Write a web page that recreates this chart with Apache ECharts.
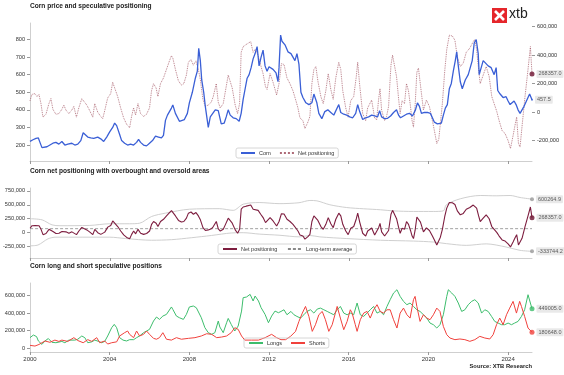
<!DOCTYPE html>
<html><head><meta charset="utf-8">
<script src="https://cdn.jsdelivr.net/npm/echarts@6/dist/echarts.min.js"></script>
<style>html,body{margin:0;padding:0;background:#fff}#c{width:564px;height:375px}</style>
</head><body><div id="c"></div>
<script>
// ---------- tick labels ----------
const yearTicks = [2000, 2004, 2008, 2012, 2016, 2020, 2024];
const priceTicks = [200, 300, 400, 500, 600, 700, 800];
const netTicksTop = [-200000, 0, 200000, 400000, 600000];
const netTicksMid = [-250000, 0, 250000, 500000, 750000];
const posTicks = [0, 200000, 400000, 600000];

// ---------- corn price ----------
const priceYears = [2000.0,2000.15,2000.3,2000.42,2000.5,2000.6,2000.7,2000.85,2001.0,2001.15,2001.3,2001.45,2001.6,2001.75,2001.9,2002.1,2002.25,2002.4,2002.55,2002.67,2002.75,2002.9,2003.05,2003.2,2003.4,2003.55,2003.7,2003.85,2004.0,2004.15,2004.25,2004.35,2004.5,2004.6,2004.75,2004.9,2005.05,2005.2,2005.35,2005.45,2005.55,2005.7,2005.85,2006.0,2006.15,2006.3,2006.45,2006.6,2006.7,2006.8,2006.9,2007.0,2007.1,2007.17,2007.3,2007.4,2007.5,2007.6,2007.75,2007.9,2008.0,2008.15,2008.3,2008.4,2008.47,2008.55,2008.62,2008.72,2008.8,2008.9,2008.95,2009.05,2009.15,2009.3,2009.45,2009.6,2009.75,2009.85,2009.95,2010.05,2010.2,2010.35,2010.5,2010.6,2010.7,2010.8,2010.9,2011.0,2011.1,2011.2,2011.3,2011.4,2011.5,2011.6,2011.7,2011.8,2011.9,2012.0,2012.1,2012.2,2012.35,2012.45,2012.5,2012.58,2012.65,2012.8,2012.95,2013.1,2013.2,2013.3,2013.4,2013.5,2013.6,2013.7,2013.85,2014.0,2014.15,2014.25,2014.4,2014.5,2014.65,2014.8,2014.95,2015.1,2015.25,2015.35,2015.5,2015.6,2015.75,2015.9,2016.05,2016.2,2016.35,2016.45,2016.55,2016.7,2016.85,2017.0,2017.15,2017.3,2017.45,2017.55,2017.65,2017.8,2017.95,2018.1,2018.25,2018.4,2018.5,2018.6,2018.75,2018.9,2019.05,2019.2,2019.35,2019.45,2019.55,2019.65,2019.8,2019.95,2020.1,2020.2,2020.3,2020.45,2020.55,2020.65,2020.75,2020.85,2020.95,2021.05,2021.15,2021.25,2021.35,2021.42,2021.5,2021.6,2021.7,2021.85,2022.0,2022.1,2022.2,2022.3,2022.4,2022.5,2022.55,2022.65,2022.75,2022.85,2023.0,2023.15,2023.3,2023.4,2023.48,2023.6,2023.75,2023.9,2024.0,2024.1,2024.2,2024.3,2024.4,2024.5,2024.6,2024.7,2024.8,2024.9,2025.0,2025.08,2025.2];
const priceValues = [221,230,238,240,215,185,178,190,200,210,215,205,220,200,205,210,200,205,225,270,260,245,240,238,245,235,220,245,275,300,325,310,260,225,210,200,205,200,215,232,215,200,195,210,225,250,245,240,255,340,370,390,410,428,380,370,335,325,345,380,440,500,580,620,750,680,570,500,420,340,300,360,370,400,395,320,325,360,400,370,355,350,335,380,460,520,580,600,640,690,720,760,650,700,740,650,620,645,640,630,610,560,640,825,790,770,730,720,700,680,720,660,500,470,440,430,440,490,440,380,350,390,400,385,370,380,430,385,375,370,360,355,380,430,390,345,355,360,370,365,360,395,360,350,352,365,385,400,370,355,365,375,380,365,400,440,420,380,385,385,380,370,330,320,330,325,370,410,430,520,550,620,680,730,650,560,520,570,600,640,680,780,800,720,600,600,680,670,650,640,600,640,510,490,470,475,450,430,440,450,430,400,380,400,420,430,470,490,457.5];

// ---------- net speculative positioning ----------
const netYears = [2000.0,2000.1,2000.25,2000.35,2000.45,2000.55,2000.65,2000.8,2000.95,2001.05,2001.15,2001.3,2001.45,2001.6,2001.7,2001.8,2001.95,2002.1,2002.2,2002.33,2002.45,2002.6,2002.7,2002.85,2003.0,2003.15,2003.25,2003.4,2003.55,2003.65,2003.75,2003.9,2004.05,2004.15,2004.25,2004.4,2004.55,2004.7,2004.85,2005.0,2005.1,2005.2,2005.3,2005.42,2005.55,2005.7,2005.85,2006.0,2006.1,2006.2,2006.33,2006.42,2006.55,2006.7,2006.85,2007.0,2007.1,2007.17,2007.3,2007.45,2007.6,2007.72,2007.85,2007.95,2008.08,2008.2,2008.33,2008.45,2008.55,2008.68,2008.8,2008.95,2009.1,2009.2,2009.35,2009.45,2009.55,2009.7,2009.8,2009.95,2010.05,2010.15,2010.3,2010.42,2010.52,2010.6,2010.7,2010.85,2010.95,2011.08,2011.2,2011.3,2011.45,2011.58,2011.7,2011.82,2011.9,2012.05,2012.2,2012.38,2012.5,2012.62,2012.75,2012.9,2013.05,2013.2,2013.35,2013.45,2013.55,2013.7,2013.8,2013.95,2014.05,2014.15,2014.25,2014.35,2014.45,2014.6,2014.72,2014.85,2014.97,2015.1,2015.22,2015.35,2015.5,2015.6,2015.7,2015.85,2015.97,2016.1,2016.25,2016.38,2016.45,2016.55,2016.7,2016.85,2016.95,2017.05,2017.15,2017.3,2017.4,2017.5,2017.57,2017.65,2017.8,2017.9,2018.0,2018.12,2018.2,2018.3,2018.4,2018.5,2018.58,2018.68,2018.8,2018.9,2019.0,2019.1,2019.18,2019.25,2019.33,2019.42,2019.5,2019.6,2019.75,2019.9,2020.05,2020.2,2020.3,2020.42,2020.52,2020.6,2020.7,2020.82,2020.92,2021.05,2021.2,2021.33,2021.45,2021.6,2021.75,2021.9,2022.08,2022.25,2022.33,2022.42,2022.52,2022.6,2022.75,2022.9,2023.05,2023.18,2023.3,2023.43,2023.55,2023.7,2023.85,2024.0,2024.12,2024.25,2024.35,2024.43,2024.52,2024.6,2024.7,2024.85,2025.0,2025.12,2025.2];
const netValues = [80000,125000,130000,110000,125000,60000,-35000,-15000,60000,95000,20000,-15000,-10000,20000,50000,15000,-10000,15000,40000,-35000,30000,95000,95000,50000,10000,-35000,60000,0,-30000,-45000,10000,100000,130000,210000,200000,110000,30000,-40000,-85000,-110000,-30000,30000,-20000,60000,-10000,-30000,-15000,30000,150000,200000,170000,110000,200000,240000,300000,360000,396000,380000,300000,220000,190000,200000,260000,350000,370000,330000,360000,300000,230000,90000,40000,50000,70000,110000,200000,70000,30000,60000,140000,260000,265000,170000,50000,-10000,60000,420000,460000,475000,470000,495000,420000,440000,400000,330000,270000,180000,160000,270000,210000,120000,200000,340000,335000,240000,200000,150000,80000,30000,-40000,-60000,-115000,-70000,-30000,200000,300000,320000,220000,110000,60000,150000,270000,160000,90000,240000,350000,300000,150000,30000,-35000,80000,110000,250000,350000,190000,-10000,-60000,30000,30000,85000,-40000,-55000,90000,165000,15000,-60000,-30000,40000,330000,400000,390000,250000,100000,-10000,80000,60000,200000,150000,40000,-60000,-105000,40000,280000,310000,190000,15000,85000,40000,-60000,-130000,-220000,-190000,-80000,60000,290000,440000,540000,535000,505000,390000,320000,345000,420000,450000,495000,510000,440000,300000,200000,260000,320000,250000,110000,60000,5000,-60000,-130000,-150000,-200000,-255000,-165000,-90000,-35000,-220000,-245000,-100000,110000,300000,460000,268357.0];

// ---------- overbought / oversold bands ----------
const upperYears = [2000.0,2000.6,2001.1,2001.5,2003.0,2004.0,2005.0,2005.5,2006.1,2006.8,2008.0,2009.5,2010.2,2010.7,2011.5,2012.5,2013.5,2014.05,2014.4,2015.05,2015.9,2016.75,2017.6,2018.25,2019.25,2020.25,2020.75,2020.9,2021.6,2022.6,2023.4,2024.1,2024.6,2025.2];
const upperValues = [250000,230000,140000,125000,130000,160000,160000,170000,290000,350000,420000,430000,400000,510000,540000,520000,536000,577000,570000,500000,450000,428000,410000,390000,380000,380000,390000,500000,607000,666000,660000,666000,630000,600264.9];
const lowerYears = [2000.0,2000.4,2000.9,2001.3,2004.0,2004.8,2006.1,2007.1,2008.1,2009.1,2010.1,2010.7,2011.5,2012.5,2013.55,2014.05,2014.55,2015.9,2017.6,2019.25,2020.25,2020.9,2021.9,2022.9,2023.9,2024.6,2025.2];
const lowerValues = [-235000,-220000,-110000,-80000,-80000,-105000,-135000,-125000,-90000,-50000,-5000,0,-25000,-45000,-75000,-50000,-75000,-105000,-135000,-150000,-167000,-196000,-227000,-200000,-256000,-316000,-333744.2];
const longTermAverage = 72000;

// ---------- long & short positions ----------
const longYears = [2000.0,2000.17,2000.33,2000.42,2000.6,2000.75,2000.92,2001.1,2001.3,2001.6,2001.75,2001.95,2002.25,2002.4,2002.6,2002.75,2002.9,2003.1,2003.25,2003.45,2003.6,2003.75,2003.9,2004.1,2004.23,2004.35,2004.5,2004.67,2004.85,2005.0,2005.2,2005.35,2005.5,2005.7,2005.85,2006.0,2006.2,2006.35,2006.5,2006.67,2006.85,2006.92,2007.1,2007.17,2007.35,2007.5,2007.7,2007.85,2008.0,2008.2,2008.35,2008.45,2008.6,2008.78,2008.95,2009.12,2009.28,2009.45,2009.53,2009.7,2009.87,2009.95,2010.1,2010.28,2010.45,2010.62,2010.7,2010.87,2011.05,2011.2,2011.3,2011.47,2011.6,2011.8,2011.97,2012.13,2012.3,2012.47,2012.6,2012.75,2012.9,2013.1,2013.25,2013.4,2013.58,2013.75,2013.9,2014.08,2014.25,2014.42,2014.58,2014.75,2014.92,2015.08,2015.25,2015.42,2015.58,2015.75,2015.92,2016.08,2016.25,2016.42,2016.58,2016.75,2016.92,2017.08,2017.25,2017.42,2017.58,2017.75,2017.92,2018.08,2018.25,2018.42,2018.5,2018.58,2018.75,2018.92,2019.08,2019.25,2019.42,2019.58,2019.75,2019.92,2020.08,2020.25,2020.42,2020.58,2020.75,2020.92,2021.0,2021.17,2021.33,2021.5,2021.67,2021.83,2022.0,2022.17,2022.33,2022.5,2022.67,2022.83,2023.0,2023.17,2023.33,2023.5,2023.67,2023.83,2024.0,2024.17,2024.33,2024.5,2024.67,2024.83,2025.0,2025.08,2025.2];
const longValues = [118000,148000,130000,80000,41000,80000,108000,65000,60000,75000,60000,90000,90000,100000,137000,118000,60000,70000,90000,75000,60000,75000,137000,232000,270000,232000,118000,90000,80000,95000,95000,118000,137000,175000,194000,213000,308000,354000,327000,365000,384000,403000,469000,441000,365000,346000,327000,384000,469000,480000,460000,441000,346000,232000,175000,156000,175000,308000,240000,175000,289000,338000,270000,194000,251000,422000,575000,583000,613000,537000,594000,537000,461000,384000,289000,365000,422000,403000,418000,437000,380000,418000,380000,361000,342000,380000,418000,437000,399000,445000,456000,437000,418000,399000,380000,437000,475000,399000,380000,399000,380000,514000,380000,361000,399000,437000,475000,399000,418000,380000,475000,552000,628000,666000,647000,590000,533000,495000,514000,475000,437000,418000,380000,342000,285000,266000,228000,266000,380000,590000,666000,628000,590000,514000,418000,437000,495000,533000,552000,514000,399000,437000,418000,361000,304000,285000,266000,266000,285000,266000,285000,304000,361000,437000,609000,590000,449005.0];
const shortYears = [2000.0,2000.25,2000.45,2000.6,2000.75,2001.0,2001.25,2001.45,2001.6,2001.9,2002.2,2002.4,2002.67,2002.9,2003.1,2003.35,2003.5,2003.75,2003.9,2004.1,2004.35,2004.5,2004.75,2004.9,2005.0,2005.2,2005.35,2005.5,2005.7,2005.85,2006.0,2006.2,2006.35,2006.5,2006.67,2006.85,2007.1,2007.35,2007.6,2007.95,2008.28,2008.6,2008.87,2009.12,2009.37,2009.62,2009.87,2010.1,2010.28,2010.45,2010.62,2010.78,2011.12,2011.47,2011.8,2012.13,2012.38,2012.6,2012.83,2013.08,2013.33,2013.5,2013.67,2013.83,2014.0,2014.17,2014.33,2014.5,2014.67,2014.83,2015.0,2015.17,2015.33,2015.42,2015.58,2015.75,2015.92,2016.08,2016.17,2016.33,2016.42,2016.58,2016.75,2016.92,2017.08,2017.25,2017.42,2017.58,2017.75,2017.92,2018.08,2018.25,2018.42,2018.58,2018.75,2018.92,2019.08,2019.25,2019.33,2019.42,2019.58,2019.75,2019.92,2020.08,2020.25,2020.42,2020.58,2020.75,2020.92,2021.08,2021.33,2021.58,2021.83,2022.08,2022.33,2022.58,2022.83,2023.08,2023.25,2023.42,2023.58,2023.75,2023.92,2024.08,2024.25,2024.33,2024.42,2024.58,2024.67,2024.83,2025.0,2025.2];
const shortValues = [30000,22000,40000,60000,80000,65000,90000,75000,90000,75000,118000,85000,60000,95000,76000,118000,60000,80000,45000,60000,70000,137000,175000,194000,156000,118000,194000,137000,156000,194000,156000,110000,100000,118000,175000,100000,90000,118000,100000,110000,118000,137000,163000,156000,118000,125000,137000,175000,232000,213000,137000,90000,90000,90000,118000,156000,118000,95000,95000,133000,190000,304000,399000,475000,361000,190000,266000,380000,418000,323000,190000,266000,399000,475000,342000,209000,304000,437000,399000,266000,190000,323000,399000,418000,342000,437000,495000,418000,399000,437000,437000,323000,228000,399000,456000,380000,342000,552000,590000,475000,304000,380000,342000,323000,380000,456000,418000,247000,152000,114000,95000,103000,95000,76000,95000,133000,114000,103000,152000,266000,342000,266000,380000,456000,533000,514000,399000,533000,475000,361000,228000,180648.0];

// ---------- helpers ----------
const FONT = 'Liberation Sans, Arial, sans-serif';
const zip = (xs, ys) => xs.map((x, i) => [x, ys[i]]);
const last = (xs, ys) => [[xs[xs.length - 1], ys[ys.length - 1]]];
const commas = v => {
  const s = Math.abs(Math.round(v)).toString().replace(/\B(?=(\d{3})+(?!\d))/g, ',');
  return (v < 0 ? '-' : '') + s;
};
const xStart = priceYears[0];
const xEnd = priceYears[priceYears.length - 1];

const C = {
  price: '#3a5fd6', netDot: '#a0505f', net: '#7d1d3f', band: '#c9c9c9', avg: '#8a8a8a',
  longs: '#3dbd6c', shorts: '#f0413c', axis: '#cfcfcf', tick: '#999', text: '#333'
};

const grids = [
  { left: 30, right: 32, top: 23, height: 138 },
  { left: 30, right: 32, top: 188, height: 70 },
  { left: 30, right: 32, top: 283, height: 69 }
];

function xAxisFor(i, showLabels) {
  return {
    type: 'value', gridIndex: i, min: xStart, max: xEnd,
    axisLine: { show: true, onZero: false, lineStyle: { color: C.axis, width: 1 } },
    axisTick: { show: true, customValues: yearTicks, length: 3, lineStyle: { color: C.tick } },
    axisLabel: { show: showLabels, customValues: yearTicks, fontSize: 6, color: C.text, margin: 4, fontFamily: FONT,
      formatter: v => String(v) },
    splitLine: { show: false }
  };
}
function yAxisFor(i, min, max, ticks, fmt, position, showLine) {
  return {
    type: 'value', gridIndex: i, min: min, max: max, position: position,
    axisLine: { show: showLine, onZero: false, lineStyle: { color: C.axis, width: 1 } },
    axisTick: { show: true, customValues: ticks, length: 3, lineStyle: { color: C.tick } },
    axisLabel: { customValues: ticks, fontSize: 5.6, color: C.text, margin: 5, fontFamily: FONT, formatter: fmt },
    splitLine: { show: false }
  };
}
function endDot(name, xi, yi, xs, ys, color, decimals, symbolSize) {
  return {
    name: name, type: 'scatter', xAxisIndex: xi, yAxisIndex: yi, data: last(xs, ys),
    symbolSize: symbolSize, itemStyle: { color: color }, z: 10, silent: true,
    label: {
      show: true, position: 'right', distance: 2, fontSize: 5.5, color: C.text, fontFamily: FONT,
      backgroundColor: '#e4e4e4', padding: [1, 2, 1, 2], borderRadius: 1,
      formatter: p => p.value[1].toFixed(decimals)
    }
  };
}
const lineBase = { type: 'line', showSymbol: false, symbol: 'none', silent: true, animation: false };
const legendBase = {
  orient: 'horizontal', itemWidth: 14, itemHeight: 5, itemGap: 8, padding: [2, 4],
  borderColor: '#ccc', borderWidth: 0.8, borderRadius: 2,
  itemStyle: { opacity: 0 },
  textStyle: { fontSize: 5.5, color: C.text, fontFamily: FONT, padding: [0, 0, 0, -1] }
};

const titleStyle = { fontSize: 6.6, fontWeight: 'bold', color: '#222', fontFamily: FONT };

const option = {
  animation: false,
  textStyle: { fontFamily: FONT },
  title: [
    { text: 'Corn price and speculative positioning', left: 30, top: 3, padding: 0, textStyle: titleStyle },
    { text: 'Corn net positioning with overbought and oversold areas', left: 30, top: 168, padding: 0, textStyle: titleStyle },
    { text: 'Corn long and short speculative positions', left: 30, top: 263, padding: 0, textStyle: titleStyle }
  ],
  legend: [
    Object.assign({}, legendBase, { data: ['Corn', 'Net positioning'], left: 236, top: 148 }),
    Object.assign({}, legendBase, { data: ['Net positioning ', 'Long-term average'], left: 218, top: 244 }),
    Object.assign({}, legendBase, { data: ['Longs', 'Shorts'], left: 244, top: 338 })
  ],
  grid: grids,
  xAxis: [xAxisFor(0, false), xAxisFor(1, false), xAxisFor(2, true)],
  yAxis: [
    yAxisFor(0, 109, 894, priceTicks, v => String(v), 'left', true),
    yAxisFor(0, -343000, 626000, netTicksTop, commas, 'right', false),
    yAxisFor(1, -453000, 800000, netTicksMid, commas, 'left', true),
    yAxisFor(2, -46000, 743000, posTicks, commas, 'left', true)
  ],
  graphic: [
    { type: 'rect', left: 492, top: 8, shape: { width: 15, height: 15 }, style: { fill: '#e5262b' } },
    { type: 'line', shape: { x1: 495, y1: 11, x2: 504, y2: 20 }, style: { stroke: '#fff', lineWidth: 2.6 } },
    { type: 'line', shape: { x1: 504, y1: 11, x2: 495, y2: 20 }, style: { stroke: '#fff', lineWidth: 2.6 } },
    { type: 'text', left: 509, top: 7, style: { text: 'xtb', fontSize: 14, fontFamily: FONT, fill: '#222' } },
    { type: 'text', right: 32, top: 363, style: { text: 'Source: XTB Research', fontSize: 5.8, fontWeight: 'bold', fontFamily: FONT, fill: '#222' } }
  ],
  series: [
    // panel 1
    Object.assign({}, lineBase, { name: 'Net positioning', xAxisIndex: 0, yAxisIndex: 1, data: zip(netYears, netValues),
      lineStyle: { color: C.netDot, width: 0.9, type: 'dotted', opacity: 0.85 }, itemStyle: { color: C.netDot }, z: 2 }),
    Object.assign({}, lineBase, { name: 'Corn', xAxisIndex: 0, yAxisIndex: 0, data: zip(priceYears, priceValues),
      lineStyle: { color: C.price, width: 1.3 }, itemStyle: { color: C.price }, z: 3 }),
    endDot('priceEnd', 0, 0, priceYears, priceValues, C.price, 1, 2),
    endDot('netEnd1', 0, 1, netYears, netValues, '#6d1230', 1, 5),
    // panel 2
    Object.assign({}, lineBase, { name: 'upper', xAxisIndex: 1, yAxisIndex: 2, data: zip(upperYears, upperValues),
      lineStyle: { color: C.band, width: 0.9 }, itemStyle: { color: C.band }, smooth: 0.3 }),
    Object.assign({}, lineBase, { name: 'lower', xAxisIndex: 1, yAxisIndex: 2, data: zip(lowerYears, lowerValues),
      lineStyle: { color: C.band, width: 0.9 }, itemStyle: { color: C.band }, smooth: 0.3 }),
    Object.assign({}, lineBase, { name: 'Long-term average', xAxisIndex: 1, yAxisIndex: 2,
      data: [[xStart, longTermAverage], [xEnd, longTermAverage]],
      lineStyle: { color: C.avg, width: 0.8, type: [3, 2] }, itemStyle: { color: C.avg } }),
    Object.assign({}, lineBase, { name: 'Net positioning ', xAxisIndex: 1, yAxisIndex: 2, data: zip(netYears, netValues),
      lineStyle: { color: C.net, width: 1.1 }, itemStyle: { color: C.net }, z: 3 }),
    endDot('upperEnd', 1, 2, upperYears, upperValues, '#999', 1, 4),
    endDot('netEnd2', 1, 2, netYears, netValues, '#6d1230', 1, 5),
    endDot('lowerEnd', 1, 2, lowerYears, lowerValues, '#999', 1, 4),
    // panel 3
    Object.assign({}, lineBase, { name: 'Longs', xAxisIndex: 2, yAxisIndex: 3, data: zip(longYears, longValues),
      lineStyle: { color: C.longs, width: 1 }, itemStyle: { color: C.longs } }),
    Object.assign({}, lineBase, { name: 'Shorts', xAxisIndex: 2, yAxisIndex: 3, data: zip(shortYears, shortValues),
      lineStyle: { color: C.shorts, width: 1 }, itemStyle: { color: C.shorts } }),
    endDot('longEnd', 2, 3, longYears, longValues, C.longs, 1, 5),
    endDot('shortEnd', 2, 3, shortYears, shortValues, C.shorts, 1, 5)
  ]
};

const chart = echarts.init(document.getElementById('c'), null, { renderer: 'canvas' });
chart.setOption(option);
</script>
</body></html>
